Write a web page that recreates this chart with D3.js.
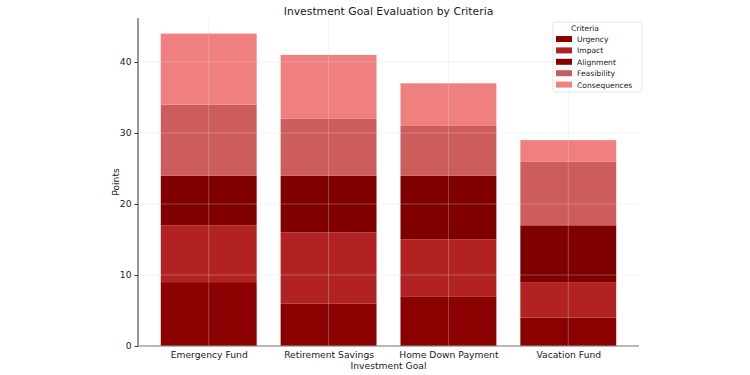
<!DOCTYPE html>
<html><head><meta charset="utf-8">
<script src="https://cdn.jsdelivr.net/npm/d3@7"></script>
<style>body{margin:0;background:#fff;}svg{display:block;font-family:"DejaVu Sans",sans-serif;}</style>
</head><body><svg id="c" width="750" height="375"></svg>
<script>
const categories = ["Emergency Fund","Retirement Savings","Home Down Payment","Vacation Fund"];
const criteria = ["Urgency","Impact","Alignment","Feasibility","Consequences"];
const urgency = [9,6,7,4];
const impact = [8,10,8,5];
const alignment = [7,8,9,8];
const feasibility = [10,8,7,9];
const consequences = [10,9,6,3];
const colors = ["#8B0000","#B22222","#800000","#CD5C5C","#F08080"];
const yTicks = [0,10,20,30,40];

const series = [urgency,impact,alignment,feasibility,consequences];
const rows = categories.map((c,i)=>{const r={cat:c}; criteria.forEach((k,j)=>r[k]=series[j][i]); return r;});
const stacked = d3.stack().keys(criteria)(rows);
const maxTotal = d3.max(rows, r=>d3.sum(criteria, k=>r[k]));

const svg = d3.select("#c");
const L=138, R=639, T=18, B=346;
const n = categories.length;
const x = d3.scaleLinear().domain([-0.59, n-1+0.59]).range([L,R]);
const bw = 0.8;
const y = d3.scaleLinear().domain([0, maxTotal*1.05]).range([B,T]);

// bars
const g = svg.append("g");
stacked.forEach((s,j)=>{
  g.selectAll(null).data(s).enter().append("rect")
   .attr("x",(d,i)=>x(i-bw/2)).attr("width",x(bw)-x(0))
   .attr("y",d=>y(d[1])).attr("height",d=>y(d[0])-y(d[1]))
   .attr("fill",colors[j]);
});

// grid (on top of bars, like matplotlib)
const grid = svg.append("g").attr("stroke","#d8d8d8").attr("stroke-opacity",0.4).attr("stroke-width",0.8);
yTicks.forEach(t=>grid.append("line").attr("x1",L).attr("x2",R).attr("y1",y(t)).attr("y2",y(t)));
categories.forEach((c,i)=>grid.append("line").attr("x1",x(i)).attr("x2",x(i)).attr("y1",T).attr("y2",B));

// axes
const yAxis = d3.axisLeft(y).tickValues(yTicks).tickSize(3.5).tickPadding(3);
const ya = svg.append("g").attr("transform",`translate(${L},0)`).call(yAxis);
ya.select(".domain").attr("stroke","#333").attr("stroke-width",1).attr("d",`M0,${T}V${B}`);
ya.selectAll(".tick line").attr("stroke","#333");
ya.selectAll("text").attr("font-size",9.2).attr("fill","#222").attr("font-family","DejaVu Sans");

const xs = d3.scaleOrdinal().domain(categories).range(categories.map((c,i)=>x(i)));
const xAxis = d3.axisBottom(xs).tickSize(0).tickPadding(5);
const xa = svg.append("g").attr("transform",`translate(0,${B})`).call(xAxis);
xa.select(".domain").attr("stroke","#777").attr("stroke-width",1).attr("d",`M${L},0H${R}`);
xa.selectAll("text").attr("font-size",9.2).attr("fill","#222").attr("font-family","DejaVu Sans");

svg.append("text").attr("x",(L+R)/2).attr("y",15).attr("text-anchor","middle")
  .attr("font-size",10.8).attr("fill","#222").text("Investment Goal Evaluation by Criteria");
svg.append("text").attr("x",(L+R)/2).attr("y",369).attr("text-anchor","middle")
  .attr("font-size",9.2).attr("fill","#222").text("Investment Goal");
svg.append("text").attr("transform",`translate(119,${(T+B)/2}) rotate(-90)`).attr("text-anchor","middle")
  .attr("font-size",9.2).attr("fill","#222").text("Points");

// legend
const lg = svg.append("g").attr("transform","translate(553,22)");
lg.append("rect").attr("width",89).attr("height",70).attr("fill","#fff").attr("fill-opacity",0.85)
  .attr("stroke","#ddd").attr("stroke-width",0.8).attr("rx",2);
lg.append("text").attr("x",32).attr("y",9).attr("text-anchor","middle").attr("font-size",7.6).attr("fill","#222").text("Criteria");
criteria.forEach((k,j)=>{
  const yy = 17 + j*11.4;
  lg.append("rect").attr("x",3).attr("y",yy-3).attr("width",16).attr("height",6).attr("fill",colors[j]);
  lg.append("text").attr("x",24).attr("y",yy+3).attr("font-size",7.6).attr("fill","#222").text(k);
});
</script></body></html>
